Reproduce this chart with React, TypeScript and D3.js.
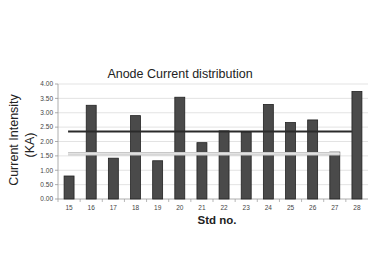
import React from "react";
import * as d3 from "d3";

const categories = ["15", "16", "17", "18", "19", "20", "21", "22", "23", "24", "25", "26", "27", "28"];
const currents = [0.8, 3.26, 1.42, 2.9, 1.33, 3.54, 1.96, 2.37, 2.32, 3.29, 2.66, 2.75, 1.63, 3.74];
const yTicks = [0, 0.5, 1, 1.5, 2, 2.5, 3, 3.5, 4];
const upperLine = { value: 2.35, from: "15", to: "28" };
const lowerLine = { value: 1.57, from: "15", to: "27" };

export default function App() {
  const W = 375, H = 277;
  const left = 58, right = 368, top = 84, bottom = 199;
  const x = d3.scaleBand<string>().domain(categories).range([left, right]).paddingInner(0.55).paddingOuter(0.275);
  const y = d3.scaleLinear().domain([0, 4]).range([bottom, top]);
  const bw = x.bandwidth();
  const cx = (c: string) => (x(c) as number) + bw / 2;
  const font = "'Liberation Sans', Arial, sans-serif";
  const step = x.step();

  return (
    <svg width={W} height={H} style={{ position: "absolute", left: 0, top: 0, background: "#fff" }} fontFamily={font}>
      <rect x={0} y={0} width={W} height={H} fill="#fff" />
      {yTicks.map((t) => (
        <g key={t}>
          {t > 0 && <line x1={left} x2={right} y1={y(t)} y2={y(t)} stroke="#dcdcdc" strokeWidth={0.8} />}
          <line x1={left - 3} x2={left} y1={y(t)} y2={y(t)} stroke="#888" strokeWidth={0.7} />
          <text x={left - 5} y={y(t)} dy="0.35em" textAnchor="end" fontSize={6.5} fill="#444">
            {t.toFixed(2)}
          </text>
        </g>
      ))}
      <line x1={left} x2={left} y1={top} y2={bottom} stroke="#999" strokeWidth={0.8} />
      <line x1={left} x2={right} y1={bottom} y2={bottom} stroke="#999" strokeWidth={0.8} />
      {categories.map((c, i) => (
        <line key={"t" + c} x1={left + i * step} x2={left + i * step} y1={bottom} y2={bottom + 3} stroke="#999" strokeWidth={0.7} />
      ))}
      {categories.map((c, i) => (
        <rect key={c} x={x(c)} y={y(currents[i])} width={bw} height={bottom - y(currents[i])} fill="#4a4a4a" stroke="#222" strokeWidth={0.8} />
      ))}
      <line x1={cx(upperLine.from) - 1} x2={x(upperLine.to) as number} y1={y(upperLine.value)} y2={y(upperLine.value)} stroke="#2a2a2a" strokeWidth={2} />
      <line x1={cx(lowerLine.from) - 1} x2={(x(lowerLine.to) as number) + bw} y1={y(lowerLine.value)} y2={y(lowerLine.value)} stroke="#c8c8c8" strokeWidth={3.5} />
      <line x1={cx(lowerLine.from) - 1} x2={(x(lowerLine.to) as number) + bw} y1={y(lowerLine.value)} y2={y(lowerLine.value)} stroke="#f2f2f2" strokeWidth={1} />
      {categories.map((c) => (
        <text key={"l" + c} x={cx(c)} y={210} textAnchor="middle" fontSize={6.5} fill="#444">
          {c}
        </text>
      ))}
      <text x={180} y={78} textAnchor="middle" fontSize={12.5} fill="#222">
        Anode Current distribution
      </text>
      <text x={217} y={224} textAnchor="middle" fontSize={11.5} fontWeight="bold" fill="#222">
        Std no.
      </text>
      <text transform="translate(18,140) rotate(-90)" textAnchor="middle" fontSize={12.5} fill="#222">
        Current Intensity
      </text>
      <text transform="translate(34,145) rotate(-90)" textAnchor="middle" fontSize={12.5} fill="#222">
        (KA)
      </text>
    </svg>
  );
}
